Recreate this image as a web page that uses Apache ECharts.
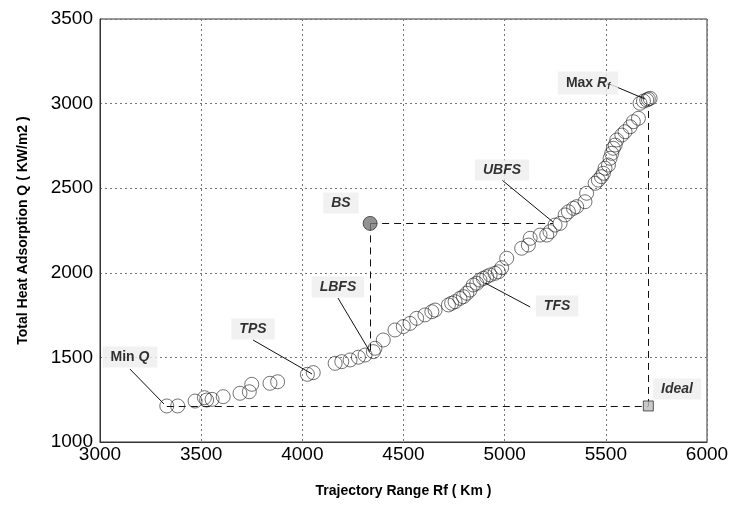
<!DOCTYPE html>
<html>
<head>
<meta charset="utf-8">
<script src="https://cdn.jsdelivr.net/npm/echarts@6/dist/echarts.min.js"></script>
<style>
  html, body {margin: 0; padding: 0; background: #fff;}
  #main {width: 733px; height: 507px;}
</style>
</head>
<body>
<div id="main"></div>
<script>
// Pareto solutions: trajectory range Rf (km) vs total heat adsorption Q
const rangeRf = [
  3330, 3384, 3470, 3516, 3527, 3554, 3609, 3692, 3738, 3750, 3840, 3878, 4025, 4054,
  4162, 4195, 4236, 4277, 4310, 4351, 4359, 4400, 4458, 4499, 4532, 4565, 4606, 4640, 4656,
  4722, 4738, 4755, 4779, 4796, 4813, 4829, 4845, 4862, 4878, 4895, 4911, 4928, 4952, 4969,
  4985, 5010, 5084, 5117, 5126, 5175, 5208, 5224, 5249, 5274, 5299, 5315, 5340, 5356, 5397,
  5405, 5447, 5463, 5478, 5488, 5496, 5513, 5521, 5529, 5537, 5546, 5554, 5579, 5595, 5620,
  5636, 5661, 5669, 5686, 5702, 5710, 5719
]
const heatQ = [
  1213, 1213, 1242, 1262, 1248, 1252, 1268, 1288, 1297, 1341, 1347, 1356, 1400, 1410,
  1465, 1475, 1485, 1501, 1514, 1534, 1554, 1603, 1662, 1682, 1701, 1731, 1751, 1770, 1780,
  1810, 1820, 1829, 1849, 1859, 1879, 1898, 1928, 1938, 1957, 1967, 1977, 1987, 1997, 2006,
  2030, 2086, 2145, 2164, 2204, 2223, 2223, 2243, 2282, 2292, 2342, 2361, 2381, 2391, 2420,
  2470, 2529, 2548, 2568, 2588, 2618, 2637, 2677, 2706, 2736, 2755, 2785, 2814, 2834, 2863,
  2893, 2913, 3002, 3015, 3021, 3027, 3031
]
const xTicks = [3000, 3500, 4000, 4500, 5000, 5500, 6000]
const yTicks = [1000, 1500, 2000, 2500, 3000, 3500]

// special solutions
const bsPoint = [4335, 2292]
const idealPoint = [5710, 1213]
const minQPoint = [3330, 1213]
const maxRfPoint = [5710, 2995]
const lbfsFoot = [4335, 1532]
const ubfsFoot = [5239, 2292]

// annotation labels: [text key, x, y] and leader lines [from, to]
const labelNames = ['minq', 'tps', 'lbfs', 'bs', 'ubfs', 'tfs', 'maxrf', 'ideal']
const labelPos = [
  [3148, 1502], [3756, 1668], [4176, 1916], [4191, 2412],
  [4987, 2607], [5259, 1804], [5412, 3122], [5852, 1313]
]
const leaders = [
  [[3148, 1431], [3316, 1225]],
  [[3756, 1603], [4048, 1402]],
  [[4176, 1851], [4335, 1532]],
  [[4987, 2548], [5239, 2300]],
  [[5126, 1798], [4903, 1940]],
  [[5506, 3122], [5694, 3027]]
]

const labelText = {
  minq: '{n|Min }{i|Q}',
  tps: '{i|TPS}',
  lbfs: '{i|LBFS}',
  bs: '{i|BS}',
  ubfs: '{i|UBFS}',
  tfs: '{i|TFS}',
  maxrf: '{n|Max }{i|R}{s|f}',
  ideal: '{i|Ideal}'
}

const font = 'Liberation Sans, Arial, sans-serif'

const chart = echarts.init(document.getElementById('main'))

chart.setOption({
  animation: false,
  backgroundColor: '#fff',
  grid: {
    left: 100,
    right: 26,
    top: 19,
    bottom: 65,
    show: true,
    borderColor: '#333',
    borderWidth: 1
  },
  xAxis: {
    type: 'value',
    min: xTicks[0],
    max: xTicks[xTicks.length - 1],
    interval: 500,
    name: 'Trajectory Range Rf ( Km )',
    nameLocation: 'middle',
    nameGap: 42,
    nameTextStyle: {fontFamily: font, fontSize: 14, fontWeight: 'bold', color: '#000'},
    axisLine: {lineStyle: {color: '#333', width: 1}},
    axisTick: {show: false},
    axisLabel: {fontFamily: font, fontSize: 19, color: '#000', margin: 3, formatter: v => String(v)},
    splitLine: {lineStyle: {color: '#777', type: [2, 3], width: 1}}
  },
  yAxis: {
    type: 'value',
    min: yTicks[0],
    max: yTicks[yTicks.length - 1],
    interval: 500,
    name: 'Total Heat Adsorption Q ( KW/m2 )',
    nameLocation: 'middle',
    nameGap: 70,
    nameTextStyle: {fontFamily: font, fontSize: 14, fontWeight: 'bold', color: '#000'},
    axisLine: {show: true, lineStyle: {color: '#333', width: 1}},
    axisTick: {show: false},
    axisLabel: {fontFamily: font, fontSize: 19, color: '#000', margin: 7, formatter: v => String(v)},
    splitLine: {lineStyle: {color: '#777', type: [2, 3], width: 1}}
  },
  series: [
    {
      // dashed guides
      type: 'lines',
      coordinateSystem: 'cartesian2d',
      silent: true,
      z: 3,
      lineStyle: {color: '#111', width: 1, type: [7, 5], opacity: 1},
      data: [
        {coords: [bsPoint, ubfsFoot]},
        {coords: [bsPoint, lbfsFoot]},
        {coords: [minQPoint, idealPoint]},
        {coords: [idealPoint, maxRfPoint]}
      ]
    },
    {
      type: 'scatter',
      symbol: 'circle',
      symbolSize: 14,
      z: 4,
      itemStyle: {color: 'rgba(0,0,0,0)', borderColor: '#222', borderWidth: 0.8},
      data: rangeRf.map((x, i) => [x, heatQ[i]])
    },
    {
      // leader lines
      type: 'lines',
      coordinateSystem: 'cartesian2d',
      silent: true,
      z: 5,
      lineStyle: {color: '#111', width: 1, type: 'solid', opacity: 1},
      data: leaders.map(l => ({coords: l}))
    },
    {
      type: 'scatter',
      z: 6,
      data: [
        {value: bsPoint, symbol: 'circle', symbolSize: 14, itemStyle: {color: '#777', borderColor: '#333', borderWidth: 1}},
        {value: idealPoint, symbol: 'rect', symbolSize: 10, itemStyle: {color: '#bbb', borderColor: '#333', borderWidth: 1}}
      ]
    },
    {
      // annotation boxes
      type: 'scatter',
      symbolSize: 0,
      z: 7,
      silent: true,
      data: labelPos.map((p, i) => ({value: p, name: labelNames[i]})),
      label: {
        show: true,
        position: 'inside',
        backgroundColor: '#eeeeee',
        padding: [4, 8, 3, 8],
        formatter: p => labelText[p.name],
        rich: {
          n: {fontFamily: font, fontSize: 14, fontWeight: 'bold', color: '#000'},
          i: {fontFamily: font, fontSize: 14, fontWeight: 'bold', fontStyle: 'italic', color: '#000'},
          s: {fontFamily: font, fontSize: 9, fontWeight: 'bold', fontStyle: 'italic', color: '#000', verticalAlign: 'bottom', padding: [7, 0, 0, 0]}
        }
      }
    }
  ]
})
</script>
</body>
</html>
